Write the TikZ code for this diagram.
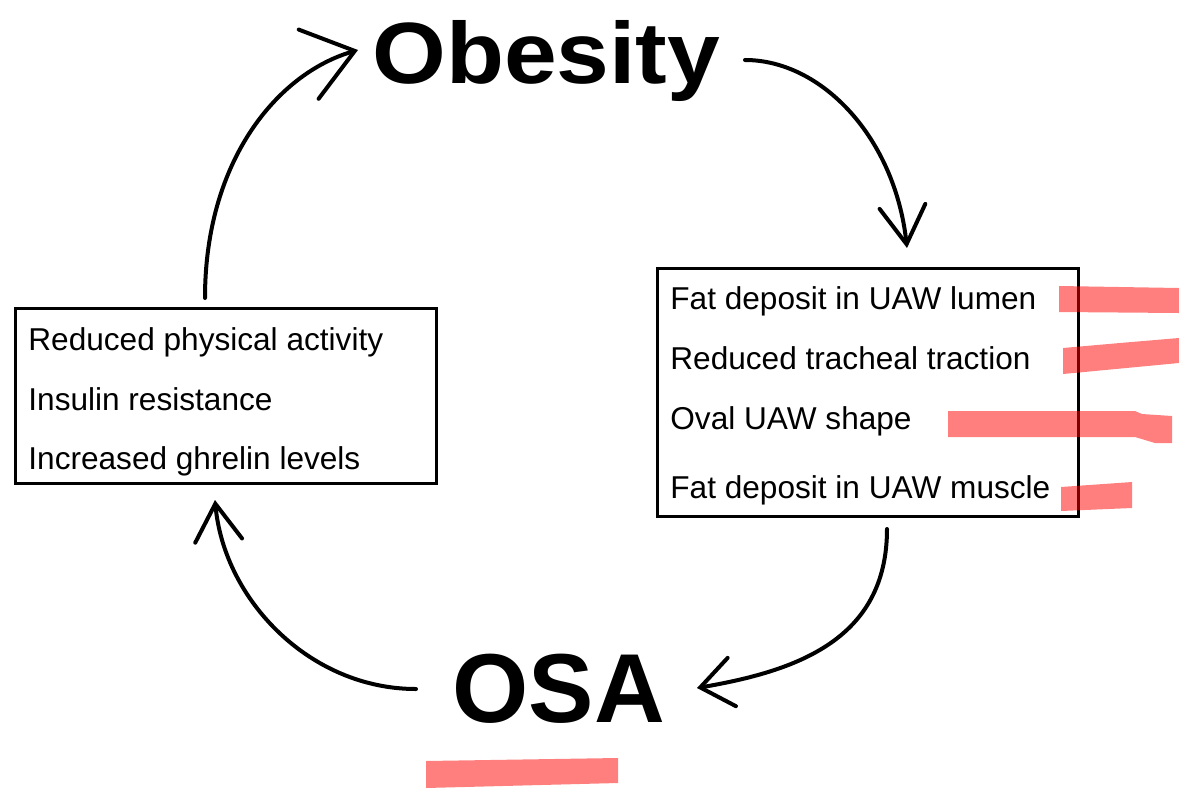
\documentclass[tikz,border=0pt]{standalone}
\usepackage{fontspec}
\setmainfont{Liberation Sans}
\usetikzlibrary{arrows.meta}
\begin{document}
\begin{tikzpicture}[x=0.5pt,y=-0.5pt,
  boxnode/.style={draw,line width=1.5pt,inner sep=0pt,minimum width=210.5pt},
  itemtext/.style={anchor=base west,inner sep=0pt,font=\fontsize{15.8}{18}\selectfont},
  bigtext/.style={anchor=base west,inner sep=0pt},
  cyc/.style={line width=2pt,line cap=round},
  hl/.style={fill=red,opacity=0.5,draw=none}]
\useasboundingbox (0,0) rectangle (1179,788);
% titles
\node[bigtext,font=\fontsize{43.5}{50}\selectfont\bfseries] (obesity) at (372,83) {\scalebox{1.09}[1]{Obesity}};
\node[bigtext,font=\fontsize{49}{56}\selectfont\bfseries] (osa) at (452,722) {OSA};
% boxes
\node[boxnode,minimum height=87.5pt] (lbox) at (225.5,395.5) {};
\node[boxnode,minimum height=124pt] (rbox) at (867.5,392) {};
% left box text
\node[itemtext] (l1) at (28,350) {Reduced physical activity};
\node[itemtext] (l2) at (28,410) {Insulin resistance};
\node[itemtext] (l3) at (28,469) {Increased ghrelin levels};
% right box text
\node[itemtext] (r1) at (670,309) {Fat deposit in UAW lumen};
\node[itemtext] (r2) at (670,369) {Reduced tracheal traction};
\node[itemtext] (r3) at (670,429) {Oval UAW shape};
\node[itemtext] (r4) at (670,498) {Fat deposit in UAW muscle};
% connector end points
\coordinate (aS) at (205,298);
\coordinate (aE) at (358,50);
\coordinate (bS) at (745,60);
\coordinate (bE) at (907,248);
\coordinate (cS) at (887,529);
\coordinate (cE) at (697,688);
\coordinate (dS) at (416,689);
\coordinate (dE) at (215,500);
% connectors
\draw[cyc,-{Straight Barb[length=24pt,width=36pt,line cap=round]}] (aS) .. controls (205,160) and (278,73) .. (aE);
\draw[cyc,-{Straight Barb[length=19pt,width=23pt,line cap=round]}] (bS) .. controls (822,60) and (895,138) .. (bE);
\draw[cyc,-{Straight Barb[length=16pt,width=24.5pt,line cap=round]}] (cS) .. controls (887,640) and (796,671) .. (cE);
\draw[cyc,-{Straight Barb[length=18.5pt,width=23.5pt,line cap=round]}] (dS) .. controls (310,689) and (224,600) .. (dE);
% highlighter strokes
\fill[hl] (1059,286) -- (1179,288) -- (1179,313) -- (1059,312) -- cycle;
\fill[hl] (1063,348) -- (1120,343) -- (1179,338) -- (1179,363) -- (1063,374) -- cycle;
\fill[hl] (948,411) -- (1135,411) -- (1142,414) -- (1172,416) -- (1172,443) -- (1155,443) -- (1135,437) -- (948,437) -- cycle;
\fill[hl] (1061,487) -- (1132,482) -- (1132,508) -- (1061,511) -- cycle;
\fill[hl] (426,761) -- (618,758) -- (618,783) -- (426,788) -- cycle;
\end{tikzpicture}
\end{document}
